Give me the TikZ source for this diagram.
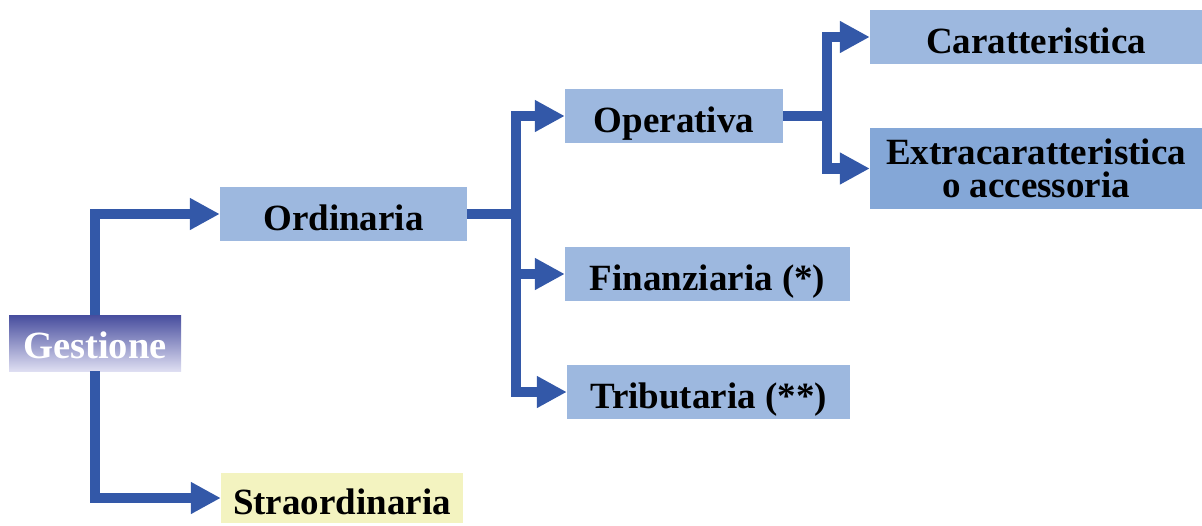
\documentclass[tikz,border=0pt]{standalone}
\usepackage{fontspec}
\setmainfont{Liberation Serif}
\usetikzlibrary{arrows.meta,calc}
\definecolor{boxblue}{HTML}{9DB8DF}
\definecolor{boxdeep}{HTML}{84A7D7}
\definecolor{boxyellow}{HTML}{F3F3C0}
\definecolor{linkblue}{HTML}{3358A8}
\definecolor{gestop}{HTML}{474D9E}
\definecolor{gesbot}{HTML}{DEDEF2}
\tikzset{
  x=1pt, y=-1pt,
  box/.style={fill=boxblue, inner sep=0pt, align=center,
    font=\bfseries\fontsize{37}{33}\selectfont},
  oneline/.style={box, text height=34pt, text depth=2pt},
  link/.style={draw=linkblue, line width=10.5pt, line join=miter},
  tolink/.style={link, -{Triangle[length=30pt,width=30pt]}}
}
\begin{document}
\begin{tikzpicture}
\useasboundingbox (0,0) rectangle (1202,525);

% boxes
\node[oneline, minimum width=172pt, minimum height=56pt, text height=33pt, text depth=3pt,
      top color=gestop, bottom color=gesbot, text=white,
      font=\bfseries\fontsize{38.5}{38}\selectfont] (gest) at (95,343) {Gestione};
\node[oneline, minimum width=247pt, minimum height=54pt] (ord) at (343.5,214) {Ordinaria};
\node[oneline, fill=boxyellow, minimum width=242pt, minimum height=50pt] (stra) at (342,498) {Straordinaria};
\node[oneline, minimum width=218pt, minimum height=54pt] (oper) at (674,116) {Operativa};
\node[oneline, minimum width=285pt, minimum height=54pt] (fin) at (707.5,274) {Finanziaria (*)};
\node[oneline, minimum width=283pt, minimum height=54pt] (trib) at (708.5,392) {Tributaria (**)};
\node[oneline, minimum width=332pt, minimum height=54pt] (car) at (1036,37) {Caratteristica};
\node[box, fill=boxdeep, minimum width=332pt, minimum height=81pt] (ext) at (1036,168.5) {Extracaratteristica\\o accessoria};

% branch points
\coordinate (jo) at ($(ord.east)+(49,0)$);
\coordinate (jc) at ($(oper.east)+(44,0)$);

% connectors
\draw[tolink] (gest.north) |- (ord.west);
\draw[tolink] (gest.south) |- (stra.west);
\draw[link] (ord.east) -- (jo);
\draw[tolink] (jo) |- (oper.west);
\draw[tolink] (jo) |- (fin.west);
\draw[tolink] (jo) |- (trib.west);
\draw[link] (oper.east) -- (jc);
\draw[tolink] (jc) |- (car.west);
\draw[tolink] (jc) |- (ext.west);
\end{tikzpicture}
\end{document}
